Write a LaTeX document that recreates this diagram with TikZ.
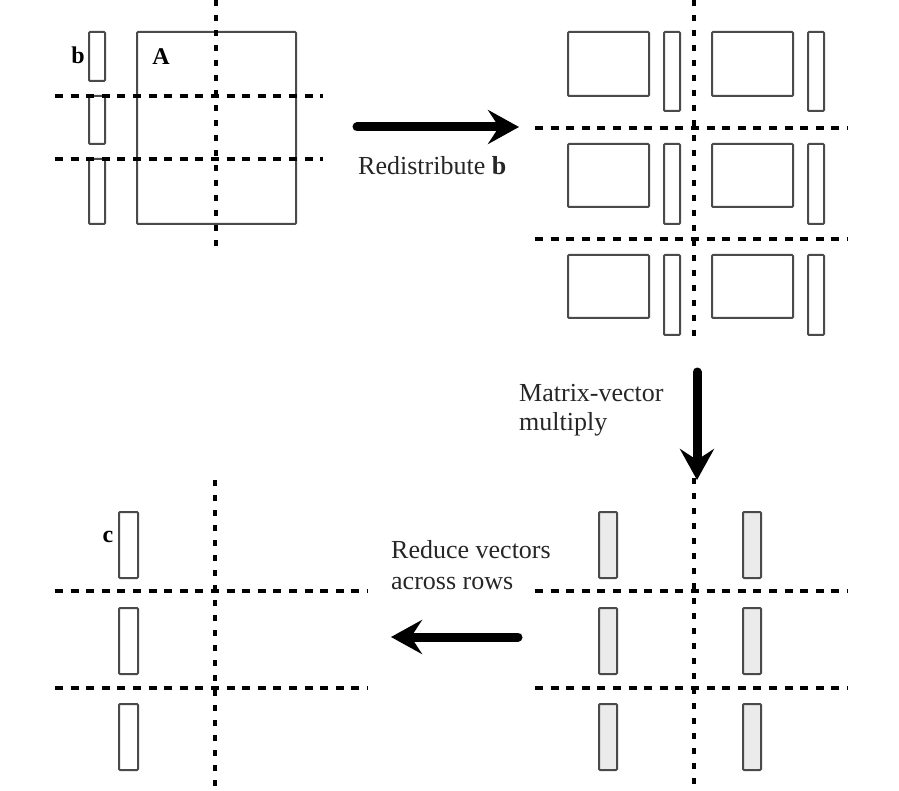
\documentclass[tikz,border=0pt]{standalone}
\usepackage{fontspec}
\setmainfont{Liberation Serif}
\usetikzlibrary{arrows.meta}
\definecolor{boxline}{HTML}{4A4A4A}
\definecolor{boxfill}{HTML}{EBEBEB}
\begin{document}
\begin{tikzpicture}[x=1pt,y=-1pt,
  blk/.style={draw=boxline, line width=2pt, rounded corners=1pt, inner sep=0pt, outer sep=0pt, minimum width=#1},
  gblk/.style={blk=#1, fill=boxfill},
  hline/.style={line width=4pt, dash pattern=on 8pt off 7.6pt},
  vline/.style={line width=4pt, dash pattern=on 6pt off 9pt},
  bigarrow/.style={line width=9pt, line cap=round, -{Stealth[length=31pt,width=34pt,inset=11pt]}},
  lbl/.style={font=\fontsize{24}{28}\selectfont\bfseries, inner sep=0pt},
  txt/.style={font=\fontsize{26}{30}\selectfont, inner sep=0pt, anchor=base west, text=black!85}
]
\useasboundingbox (0,0) rectangle (899,791);

% ---------- top left ----------
\node[blk=16pt, minimum height=49pt] (b1) at (97,56.5) {};
\node[blk=16pt, minimum height=48pt] (b2) at (97,120) {};
\node[blk=16pt, minimum height=65pt] (b3) at (97,191.5) {};
\node[blk=159pt, minimum height=192pt] (A) at (216.5,128) {};
\node[lbl] (bl) at (78,55) {b};
\node[lbl] (Al) at (161,57) {A};
\draw[hline] (55,96) -- (323,96);
\draw[hline] (55,159) -- (323,159);
\draw[vline] (216,0) -- (216,250);

% ---------- top right ----------
\foreach \r/\ya/\ha in {1/64/64, 2/175.5/63, 3/286.5/63}{
  \node[blk=81pt, minimum height=\ha pt] (AL\r) at (608.5,\ya) {};
  \node[blk=81pt, minimum height=\ha pt] (AR\r) at (752.5,\ya) {};
}
\node[blk=16pt, minimum height=79pt] (bL1) at (672,71.5) {};
\node[blk=16pt, minimum height=79pt] (bR1) at (816,71.5) {};
\node[blk=16pt, minimum height=80pt] (bL2) at (672,184) {};
\node[blk=16pt, minimum height=80pt] (bR2) at (816,184) {};
\node[blk=16pt, minimum height=80pt] (bL3) at (672,295) {};
\node[blk=16pt, minimum height=80pt] (bR3) at (816,295) {};
\draw[hline] (535,128) -- (848,128);
\draw[hline] (535,239) -- (848,239);
\draw[vline] (694,0) -- (694,340);

% ---------- bottom left ----------
\node[blk=19pt, minimum height=66pt] (c1) at (128.5,545) {};
\node[blk=19pt, minimum height=66pt] (c2) at (128.5,641) {};
\node[blk=19pt, minimum height=66pt] (c3) at (128.5,737) {};
\node[lbl] (cl) at (108,537) {c};
\draw[hline] (55,591) -- (368,591);
\draw[hline] (55,688) -- (368,688);
\draw[vline] (215,480) -- (215,791);

% ---------- bottom right ----------
\node[gblk=18pt, minimum height=66pt] (yL1) at (608,545) {};
\node[gblk=18pt, minimum height=66pt] (yL2) at (608,641) {};
\node[gblk=18pt, minimum height=66pt] (yL3) at (608,737) {};
\node[gblk=18pt, minimum height=66pt] (yR1) at (752,545) {};
\node[gblk=18pt, minimum height=66pt] (yR2) at (752,641) {};
\node[gblk=18pt, minimum height=66pt] (yR3) at (752,737) {};
\draw[hline] (535,591) -- (848,591);
\draw[hline] (535,688) -- (848,688);
\draw[vline] (694,478) -- (694,791);

% ---------- arrows and labels ----------
\coordinate (r1) at (357,127);
\coordinate (r2) at (519,127);
\draw[bigarrow] (r1) -- (r2);
\node[txt] (redist) at (358,175) {Redistribute \textbf{b}};

\coordinate (m1) at (697,372);
\coordinate (m2) at (697,480);
\draw[bigarrow] (m1) -- (m2);
\node[txt] (mv1) at (519,401) {Matrix-vector};
\node[txt] (mv2) at (519,430) {multiply};

\coordinate (d1) at (518,637);
\coordinate (d2) at (391,637);
\draw[bigarrow] (d1) -- (d2);
\node[txt] (rv1) at (391,558) {Reduce vectors};
\node[txt] (rv2) at (391,589) {across rows};
\end{tikzpicture}
\end{document}
